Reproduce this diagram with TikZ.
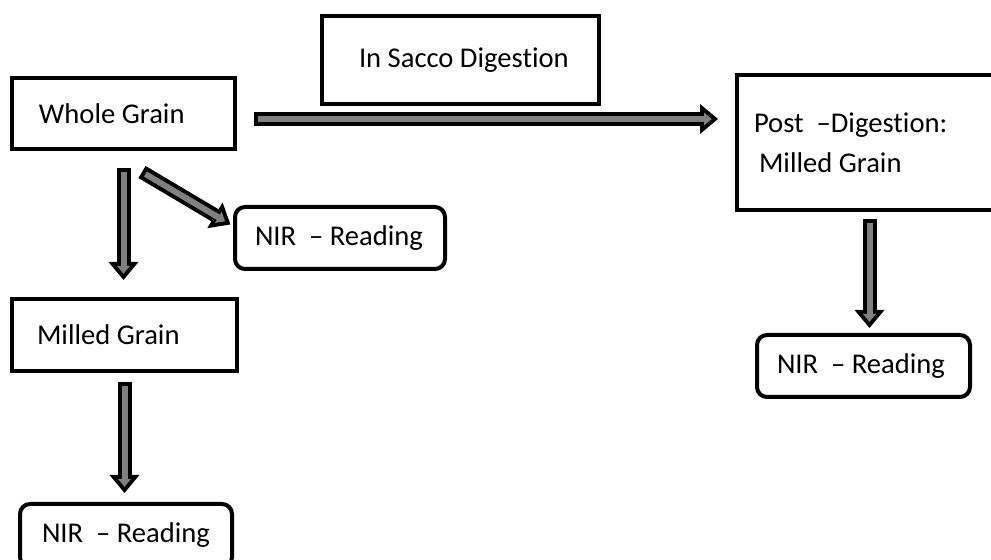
\documentclass[tikz,border=0pt]{standalone}
\usepackage{fontspec}
\setmainfont{Carlito}[Ligatures=NoCommon]
\usetikzlibrary{arrows.meta}
\definecolor{arrowgray}{RGB}{128,128,128}

\begin{document}
\begin{tikzpicture}[x=0.5pt,y=-0.5pt,
  box/.style={draw,line width=2pt,anchor=north west,inner ysep=0pt,
    align=flush left,font=\fontsize{14.3pt}{20pt}\selectfont},
  readbox/.style={box,rounded corners=5pt},
  blockarrow/.style 2 args={draw=arrowgray,line width=3pt,
    shorten <=#1+2pt,shorten >=#2+3.1pt,
    -{Triangle[length=3.9pt,width=6.5pt,line width=0pt]},
    preaction={draw=black,line width=7pt,shorten <=#1,shorten >=#2,
      -{Triangle[length=9pt,width=15pt,line width=0pt]}}}]
  \useasboundingbox (0,0) rectangle (991,560);
  \clip (0,0) rectangle (991,560);

  % boxes
  \node[box,minimum height=44pt,inner xsep=18.5pt,text width=101.5pt] (sacco)
    at (320,14) {\mbox{In Sacco Digestion}};
  \node[box,minimum height=35.5pt,inner xsep=13.5pt,text width=84.5pt] (wg)
    at (10,76) {\mbox{Whole Grain}};
  \node[box,minimum height=67.5pt,inner xsep=8.5pt,text width=115.5pt] (post)
    at (735,73) {\mbox{Post\ \ –Digestion:}\\\hspace*{2.5pt}\mbox{Milled Grain}};
  \node[readbox,minimum height=31pt,inner xsep=10pt,text width=85pt] (midnir)
    at (233,205) {\mbox{NIR\ \ – Reading}};
  \node[readbox,minimum height=31pt,inner xsep=10pt,text width=86.5pt] (rnir)
    at (755,333) {\mbox{NIR\ \ – Reading}};
  \node[box,minimum height=36pt,inner xsep=12.5pt,text width=87.5pt] (milled)
    at (10,297) {\mbox{Milled Grain}};
  \node[readbox,minimum height=31.5pt,inner xsep=11pt,text width=84pt] (nirc)
    at (18,502) {\mbox{NIR\ \ – Reading}};

  % arrows
  \coordinate (hstart) at ([yshift=-2.75pt]wg.east);
  \draw[blockarrow={8.5pt}{8.5pt}]
    (hstart)
    --
    (hstart -| post.west);
  \draw[blockarrow={8.5pt}{8.5pt}]
    (wg.south)
    --
    (wg.south |- milled.north);
  \coordinate (dstart) at (142,172);
  \draw[blockarrow={0pt}{1.5pt}]
    (dstart)
    --
    ([yshift=6pt]midnir.west);
  \draw[blockarrow={4.5pt}{4.5pt}]
    (milled.south)
    --
    (milled.south |- nirc.north);
  \draw[blockarrow={3.5pt}{2.5pt}]
    (post.south)
    --
    (post.south |- rnir.north);
\end{tikzpicture}
\end{document}
